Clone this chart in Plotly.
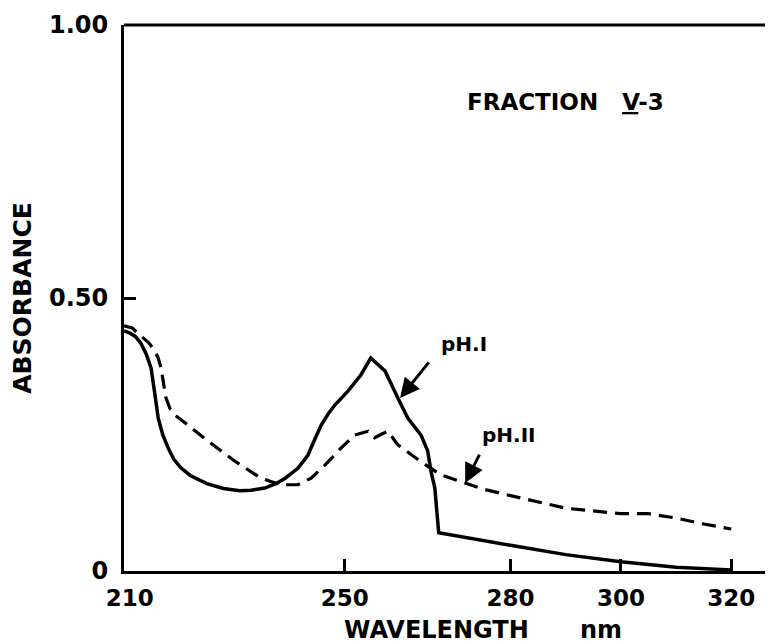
import plotly.graph_objects as go

# ---- data ----
wl_ph1 = [210, 211, 212, 213, 214, 214.9, 215.5, 216.2, 217, 218, 219, 220.3, 222, 225, 228,
          231, 233, 235.5, 237.5, 239.2, 241.5, 243.3, 244.5, 245.7, 247, 248.2, 250.6, 252.9,
          254.7, 257.3, 259.6, 261.4, 263.8, 265, 265.6, 266.3, 267, 270, 275, 280, 290,
          300, 310, 320]
abs_ph1 = [0.44, 0.436, 0.43, 0.418, 0.398, 0.372, 0.33, 0.28, 0.25, 0.225, 0.205, 0.189, 0.175,
           0.16, 0.151, 0.147, 0.148, 0.152, 0.16, 0.170, 0.188, 0.212, 0.24, 0.267, 0.288, 0.304,
           0.33, 0.359, 0.39, 0.366, 0.317, 0.28, 0.249, 0.22, 0.183, 0.152, 0.07, 0.065, 0.056,
           0.047, 0.03, 0.017, 0.007, 0.002]

wl_ph11 = [210, 211.5, 213.1, 214.5, 215.6, 216.2, 216.7, 217.6, 218.3, 219.2, 221.6, 225.2,
           230.1, 234.8, 238.4, 241.5, 243.9, 246.4, 249.3, 251.8, 254.2, 255.4, 256.5, 257.8,
           259.6, 263.8, 267.4, 270.5, 275, 280, 290, 300, 305, 310, 315, 320]
abs_ph11 = [0.449, 0.445, 0.43, 0.418, 0.403, 0.39, 0.372, 0.317, 0.298, 0.286, 0.267, 0.238,
            0.201, 0.170, 0.158, 0.158, 0.170, 0.194, 0.225, 0.249, 0.256, 0.244, 0.25, 0.256,
            0.231, 0.2, 0.176, 0.165, 0.15, 0.138, 0.115, 0.105, 0.105, 0.097, 0.086, 0.077]

x_ticks = [210, 250, 280, 300, 320]
x_tick_labels = ["210", "250", "280", "300", "320"]
y_ticks = [0, 0.5, 1.0]
y_tick_labels = ["0", "0.50", "1.00"]

FONT = "DejaVu Sans"
INK = "black"

# first x label sits to the right of the corner in the reference
x_text = ["\u2002" + t if i == 0 else t for i, t in enumerate(x_tick_labels)]

fig = go.Figure()
fig.add_trace(go.Scatter(x=wl_ph1, y=abs_ph1, mode="lines",
                         line=dict(color=INK, width=3.5), name="pH 1"))
fig.add_trace(go.Scatter(x=wl_ph11, y=abs_ph11, mode="lines",
                         line=dict(color=INK, width=3.2, dash="14px,8px"), name="pH 11"))

fig.update_layout(
    width=773, height=644,
    margin=dict(l=116, r=0, t=17, b=81),
    plot_bgcolor="white", paper_bgcolor="white",
    showlegend=False,
    font=dict(family=FONT, color=INK, size=24, weight="bold"),
)
fig.update_xaxes(
    range=[210, 329], tickvals=x_ticks, ticktext=x_text,
    ticks="inside", ticklen=12, tickwidth=2.5, tickcolor=INK,
    showline=True, linecolor=INK, linewidth=3, showgrid=False, zeroline=False,
    tickfont=dict(size=23, family=FONT, weight="bold"),
    ticklabelstandoff=4,
)
fig.update_yaxes(
    range=[0, 1.0], tickvals=y_ticks, ticktext=y_tick_labels,
    ticks="inside", ticklen=12, tickwidth=2.5, tickcolor=INK,
    showline=True, linecolor=INK, linewidth=3, showgrid=False, zeroline=False,
    tickfont=dict(size=24, family=FONT, weight="bold"),
    ticklabelstandoff=8,
    title=dict(text="ABSORBANCE", font=dict(size=25, family=FONT, weight="bold"), standoff=12),
)

# frame: top line and partial right line
fig.add_shape(type="line", xref="paper", yref="paper", x0=0, x1=1, y0=1, y1=1,
              line=dict(color=INK, width=3))
fig.add_shape(type="line", xref="paper", yref="y", x0=0.998, x1=0.998, y0=1.0, y1=0.24,
              line=dict(color=INK, width=2.5))

ann_font = dict(family=FONT, size=20, color=INK, weight="bold")
fig.add_annotation(x=271.5, y=0.416, text="pH.I", showarrow=False, font=ann_font)
fig.add_annotation(x=260.0, y=0.317, text="", showarrow=True, ax=30, ay=-37,
                   arrowhead=2, arrowsize=1.3, arrowwidth=3, arrowcolor=INK)
fig.add_annotation(x=279.8, y=0.249, text="pH.II", showarrow=False, font=ann_font)
fig.add_annotation(x=271.8, y=0.161, text="", showarrow=True, ax=15, ay=-30,
                   arrowhead=2, arrowsize=1.3, arrowwidth=3, arrowcolor=INK)

fig.add_annotation(x=290, y=0.859, text="FRACTION   <u>V</u>-3", showarrow=False,
                   font=dict(family=FONT, size=23, color=INK, weight="bold"))

fig.add_annotation(xref="paper", yref="paper", x=(428 - 116) / 657, y=-0.108,
                   text="WAVELENGTH", showarrow=False, yanchor="middle",
                   font=dict(family=FONT, size=24, color=INK, weight="bold"))
fig.add_annotation(xref="paper", yref="paper", x=(616 - 116) / 657, y=-0.108,
                   text="nm", showarrow=False, yanchor="middle",
                   font=dict(family=FONT, size=24, color=INK, weight="bold"))

fig.write_html("out.html")
